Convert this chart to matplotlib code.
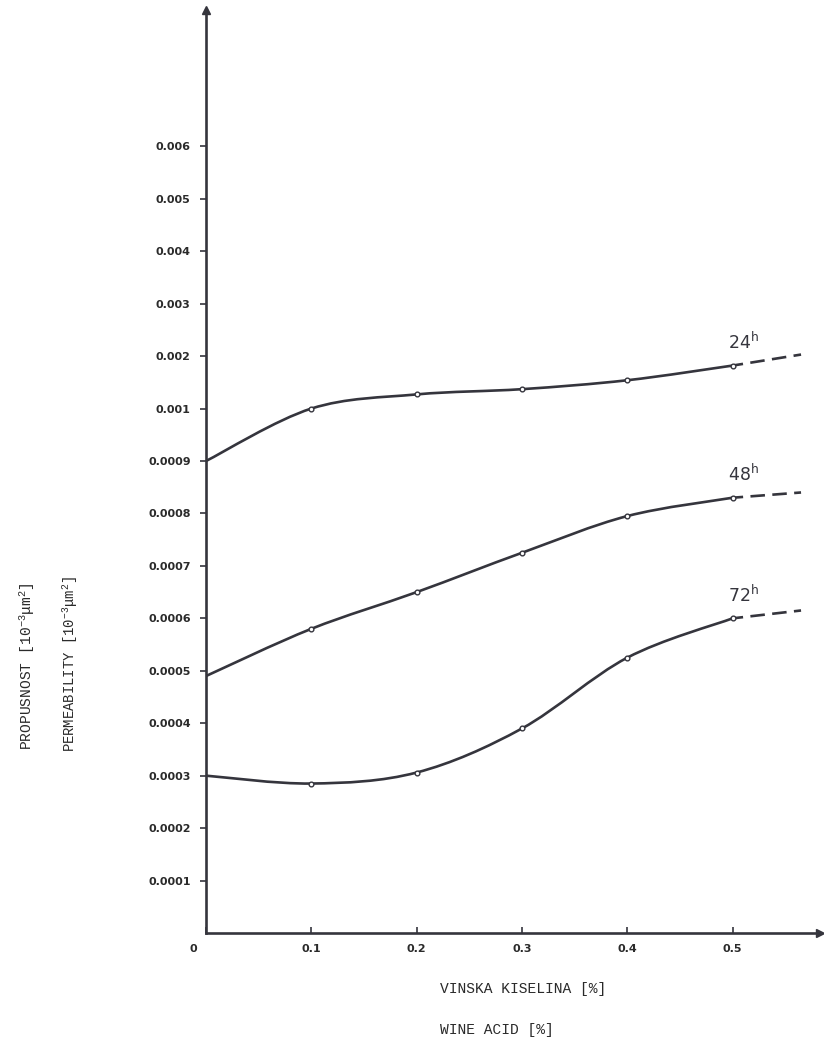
import numpy as np
import matplotlib.pyplot as plt
import matplotlib.transforms as mtransforms
from matplotlib.path import Path
from matplotlib.patches import PathPatch

plt.rcParams['mathtext.default'] = 'regular'

# podaci ocitani sa slike
acid = [0.0, 0.1, 0.2, 0.3, 0.4, 0.5]
perm_24h = [0.0009, 0.001, 0.00127, 0.00137, 0.00154, 0.00182]
perm_48h = [0.00049, 0.00058, 0.00065, 0.000725, 0.000795, 0.00083]
perm_72h = [0.0003, 0.000285, 0.000306, 0.00039, 0.000525, 0.0006]

# isprekidani nastavak iza 0.5
acid_ext = 0.565
ext_24h = 0.00203
ext_48h = 0.00084
ext_72h = 0.000615

curve_names = ['24', '48', '72']

y_ticks = [0.0001, 0.0002, 0.0003, 0.0004, 0.0005, 0.0006, 0.0007, 0.0008, 0.0009,
           0.001, 0.002, 0.003, 0.004, 0.005, 0.006]
y_ticklabels = ['0.0001', '0.0002', '0.0003', '0.0004', '0.0005', '0.0006', '0.0007',
                '0.0008', '0.0009', '0.001', '0.002', '0.003', '0.004', '0.005', '0.006']
x_ticks = [0, 0.1, 0.2, 0.3, 0.4, 0.5]
x_ticklabels = ['0', '0.1', '0.2', '0.3', '0.4', '0.5']

# nelinearna y os: svaki tick jednako razmaknut
scale_vals = np.array([-0.0001, 0.0] + y_ticks + [0.007, 0.008, 0.009, 0.010])
scale_pos = np.arange(len(scale_vals)) - 1.0


def fwd(v):
    return np.interp(v, scale_vals, scale_pos)


def inv(p):
    return np.interp(p, scale_pos, scale_vals)


def smooth_path(xs, ys):
    # glatka krivulja kroz tocke (Catmull-Rom -> Bezier), racunato u prostoru osi
    P = np.column_stack([np.asarray(xs, float), fwd(np.asarray(ys, float))])
    verts = [P[0]]
    codes = [Path.MOVETO]
    n = len(P)
    for i in range(n - 1):
        p0 = P[i - 1] if i > 0 else P[i]
        p3 = P[i + 2] if i + 2 < n else P[i + 1]
        c1 = P[i] + (P[i + 1] - p0) / 6.0
        c2 = P[i + 1] - (p3 - P[i]) / 6.0
        verts += [c1, c2, P[i + 1]]
        codes += [Path.CURVE4] * 3
    verts = np.array(verts)
    verts[:, 1] = inv(verts[:, 1])
    return Path(verts, codes)


ink = '#35353d'
W, H = 824, 1042
fig = plt.figure(figsize=(W / 100, H / 100), dpi=100)
ax = fig.add_axes([206 / W, (H - 933) / H, (820 - 206) / W, (933 - 10) / H])
ax.set_yscale('function', functions=(fwd, inv))
ax.set_xlim(0, 0.583)
ax.set_ylim(0, 0.0086)

series = [(perm_24h, ext_24h), (perm_48h, ext_48h), (perm_72h, ext_72h)]
for (vals, ext), name in zip(series, curve_names):
    ax.add_patch(PathPatch(smooth_path(acid, vals), facecolor='none',
                           edgecolor=ink, lw=1.9, capstyle='round'))
    ax.plot(acid[1:], vals[1:], 'o', ms=3.4, mfc='white', mec=ink, mew=1.0, zorder=3)
    ax.plot([acid[-1], acid_ext], [vals[-1], ext], color=ink, lw=1.9,
            linestyle=(1.5, (5.5, 2.8)))
    ax.annotate(name + '$^{h}$', (acid[-1], vals[-1]), xytext=(-3, 9),
                textcoords='offset points', fontsize=12.5, color=ink,
                family='DejaVu Sans', ha='left', va='bottom')

for s in ['top', 'right']:
    ax.spines[s].set_visible(False)
for s in ['left', 'bottom']:
    ax.spines[s].set_linewidth(1.9)
    ax.spines[s].set_color(ink)

ax.plot(1, 0, '>', color=ink, ms=6, transform=ax.transAxes, clip_on=False)
ax.plot(0, 1, '^', color=ink, ms=6, transform=ax.transAxes, clip_on=False)

ax.set_yticks(y_ticks)
ax.set_yticklabels(y_ticklabels)
ax.set_xticks(x_ticks)
ax.set_xticklabels(x_ticklabels)
ax.yaxis.set_minor_locator(plt.NullLocator())
ax.tick_params(axis='y', direction='out', length=4, width=1.2, color=ink,
               labelsize=8, labelcolor='#2a2a2a', pad=7)
ax.tick_params(axis='x', direction='in', length=4, width=1.2, color=ink,
               labelsize=8, labelcolor='#2a2a2a', pad=8)
for lab in ax.get_xticklabels() + ax.get_yticklabels():
    lab.set_fontweight('semibold')
zero = ax.get_xticklabels()[0]
zero.set_horizontalalignment('center')
zero.set_transform(zero.get_transform() + mtransforms.ScaledTranslation(-13 / 100, 0, fig.dpi_scale_trans))

mono = 'Liberation Mono'
fig.text(27 / W, (H - 750) / H, 'PROPUSNOST [10$^{-3}$\u03bcm$^{2}$]', rotation=90,
         ha='center', va='bottom', family=mono, fontsize=10.5, color='#2a2a2a')
fig.text(70 / W, (H - 752) / H, 'PERMEABILITY [10$^{-3}$\u03bcm$^{2}$]', rotation=90,
         ha='center', va='bottom', family=mono, fontsize=10, color='#2a2a2a')
fig.text(440 / W, (H - 989) / H, 'VINSKA KISELINA [%]', ha='left', va='center',
         family=mono, fontsize=10.5, color='#2a2a2a')
fig.text(440 / W, (H - 1030) / H, 'WINE ACID [%]', ha='left', va='center',
         family=mono, fontsize=10.5, color='#2a2a2a')

fig.savefig('out.png', dpi=100)
